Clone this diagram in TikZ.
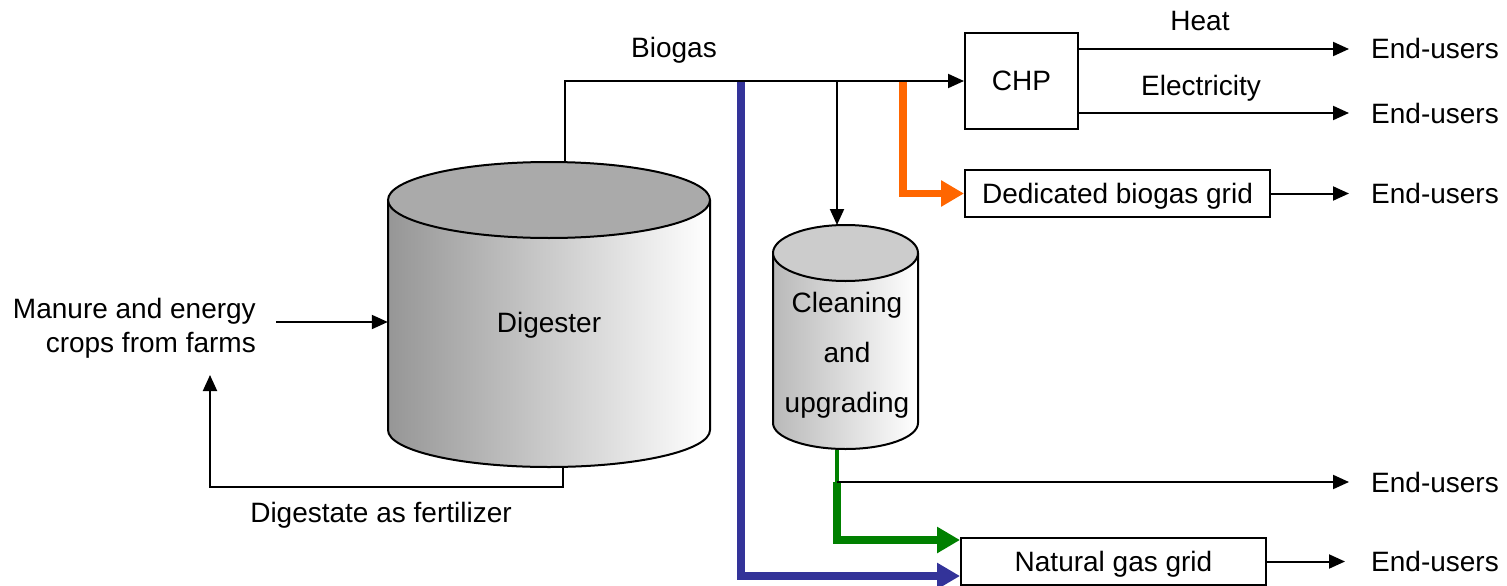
\documentclass[tikz,border=0pt]{standalone}
\usepackage{fontspec}
\setmainfont{Liberation Sans}
\usetikzlibrary{arrows.meta}
\definecolor{dblue}{RGB}{51,51,153}
\definecolor{orng}{RGB}{255,102,0}
\definecolor{grn}{RGB}{0,128,0}
\definecolor{digtop}{RGB}{170,170,170}
\definecolor{digleft}{RGB}{150,150,150}
\definecolor{clntopc}{RGB}{204,204,204}
\definecolor{clnleft}{RGB}{185,185,185}
\begin{document}
\begin{tikzpicture}[x=1pt,y=1pt,
  font=\fontsize{28}{34}\selectfont,
  arr/.style={line width=2pt,-{Triangle[length=16pt,width=14pt]}},
  thk/.style={line width=7.5pt,-{Triangle[length=23pt,width=25pt]}},
  box/.style={draw,line width=2pt,inner sep=0pt,text height=20pt,text depth=0pt},
  eu/.style={anchor=west,inner sep=0pt,text height=20pt,text depth=0pt},
  lbl/.style={inner sep=0pt}]
\useasboundingbox (0,0) rectangle (1507,-586);

% Digester cylinder
\shade[left color=digleft,right color=white] (388,-200) -- (388,-430)
  arc[start angle=180,end angle=360,x radius=161pt,y radius=37pt] -- (710,-200) -- cycle;
\draw[line width=2pt] (388,-200) -- (388,-430)
  arc[start angle=180,end angle=360,x radius=161pt,y radius=37pt] -- (710,-200);
\filldraw[fill=digtop,line width=2pt] (549,-200) ellipse[x radius=161pt,y radius=38pt];
\node[lbl,minimum width=322pt,minimum height=290pt,text height=20pt,text depth=0pt] (dig) at (549,-322) {Digester};

% Cleaning cylinder
\shade[left color=clnleft,right color=white] (773,-253) -- (773,-423)
  arc[start angle=180,end angle=360,x radius=72.5pt,y radius=26pt] -- (918,-253) -- cycle;
\draw[line width=2pt] (773,-253) -- (773,-423)
  arc[start angle=180,end angle=360,x radius=72.5pt,y radius=26pt] -- (918,-253);
\filldraw[fill=clntopc,line width=2pt] (845.5,-253) ellipse[x radius=72.5pt,y radius=28pt];
\node[lbl,align=center,font=\fontsize{28}{50}\selectfont] (cln) at (847,-355) {Cleaning\\and\\upgrading};

% Boxes
\node[box,minimum width=113pt,minimum height=96pt] (chp) at (1021.5,-81) {CHP};
\node[box,minimum width=305pt,minimum height=47pt] (dbg) at (1117.5,-193.5) {Dedicated biogas grid};
\node[box,minimum width=305pt,minimum height=47pt] (ngrid) at (1113.5,-561.5) {Natural gas grid};

% End-users
\node[eu] (eu1) at (1371,-49) {End-users};
\node[eu] (eu2) at (1371,-113) {End-users};
\node[eu] (eu3) at (1371,-193.5) {End-users};
\node[eu] (eu4) at (1371,-482) {End-users};
\node[eu] (eu5) at (1371,-561.5) {End-users};

% Labels
\node[lbl] (biogas) at (674,-50) {Biogas};
\node[lbl] (heat) at (1200,-21) {Heat};
\node[lbl] (elec) at (1201,-88) {Electricity};
\node[lbl] (dgst) at (381,-515) {Digestate as fertilizer};
\node[lbl,align=right,anchor=east] (man) at (256,-328) {Manure and energy\\crops from farms};

% Coordinates
\coordinate (bgstart) at (565,-162);
\coordinate (jblue) at (741,-82);
\coordinate (jblack) at (837,-82);
\coordinate (jor) at (903,-82);
\coordinate (clntop) at (837,-225);
\coordinate (clnbot) at (837,-450);
\coordinate (jgreen) at (837,-482);
\coordinate (fert) at (563,-467);
\coordinate (ret) at (210,-375);
\coordinate (retcorner) at (210,-487);

% Connectors
\draw[arr] (bgstart) |- (chp.west);
\draw[thk,dblue] (jblue) |- ([yshift=-14.5pt]ngrid.west);
\draw[arr] (jblack) -- (clntop);
\draw[thk,orng] (jor) |- (dbg.west);
\draw[grn,line width=3.5pt] (clnbot) -- (jgreen);
\draw[thk,grn] (jgreen) |- ([yshift=21.5pt]ngrid.west);
\draw[arr] (jgreen) -- ([xshift=-22pt]eu4.west);
\draw[arr] (chp.east |- eu1.west) -- ([xshift=-22pt]eu1.west);
\draw[arr] (chp.east |- eu2.west) -- ([xshift=-22pt]eu2.west);
\draw[arr] (dbg.east) -- ([xshift=-22pt]eu3.west);
\draw[arr] (ngrid.east) -- ([xshift=-26pt]eu5.west);
\draw[arr] ([xshift=20pt]man.east |- dig.west) -- (dig.west);
\draw[arr] (fert) |- (retcorner) -- (ret);
\end{tikzpicture}
\end{document}
